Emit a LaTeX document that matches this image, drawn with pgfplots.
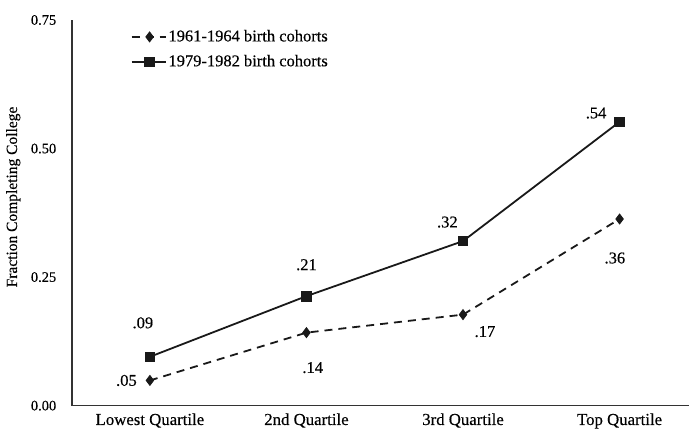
\documentclass[border=0pt]{standalone}
\usepackage{fontspec}
\setmainfont{Liberation Serif}[FakeBold=0.3]
\usepackage{pgfplots}
\pgfplotsset{compat=1.18}
\begin{document}
\fontsize{16.5}{19}\selectfont
\begin{tikzpicture}
\begin{axis}[
  scale only axis,
  width=618pt, height=386pt,
  xmin=-0.498, xmax=3.446,
  ymin=0, ymax=0.75,
  axis x line=bottom, axis y line=left,
  axis line style={-, line width=1.2pt, black!80},
  xtick={0,1,2,3},
  xticklabels={Lowest Quartile,2nd Quartile,3rd Quartile,Top Quartile},
  ytick={0,0.25,0.5,0.75},
  yticklabels={0.00,0.25,0.50,0.75},
  major tick length=0pt,
  yticklabel style={xshift=-10pt, font=\fontsize{14.5}{17}\selectfont},
  xticklabel style={yshift=-2pt, font=\fontsize{16.8}{19}\selectfont},
  ylabel={Fraction Completing College},
  ylabel style={at={(axis description cs:-0.095,0.541)}, anchor=center, font=\fontsize{15.5}{18}\selectfont},
  legend style={draw=none, fill=none, at={(axis description cs:0.09,0.985)}, anchor=north west, font=\fontsize{16.5}{19}\selectfont, row sep=7pt},
  legend cell align=left,
  legend image code/.code={\draw[#1] (0pt,0pt) -- (34pt,0pt); \draw[#1, solid, mark repeat=1] plot coordinates {(18pt,0pt)};},
]
\addplot[black!90, line width=1.8pt, dashed, dash pattern=on 8pt off 6pt, mark=diamond*, mark size=5pt, mark options={solid, fill=black!90, line width=0.8pt}]
  coordinates {(0,0.049) (1,0.142) (2,0.177) (3,0.363)};
\addlegendentry{1961-1964 birth cohorts}
\addplot[black!90, line width=1.8pt, mark=square*, mark size=4.8pt, mark options={solid, fill=black!90, line width=0.8pt}]
  coordinates {(0,0.095) (1,0.213) (2,0.32) (3,0.552)};
\addlegendentry{1979-1982 birth cohorts}
\node at (axis cs:-0.045,0.161) {.09};
\node at (axis cs:-0.15,0.049) {.05};
\node at (axis cs:1.0,0.274) {.21};
\node at (axis cs:1.04,0.074) {.14};
\node at (axis cs:1.90,0.357) {.32};
\node at (axis cs:2.14,0.144) {.17};
\node at (axis cs:2.85,0.569) {.54};
\node at (axis cs:2.97,0.287) {.36};
\end{axis}
\path ([xshift=-72pt,yshift=-30pt]current axis.south west) rectangle ([yshift=20pt]current axis.north east);
\end{tikzpicture}
\end{document}
